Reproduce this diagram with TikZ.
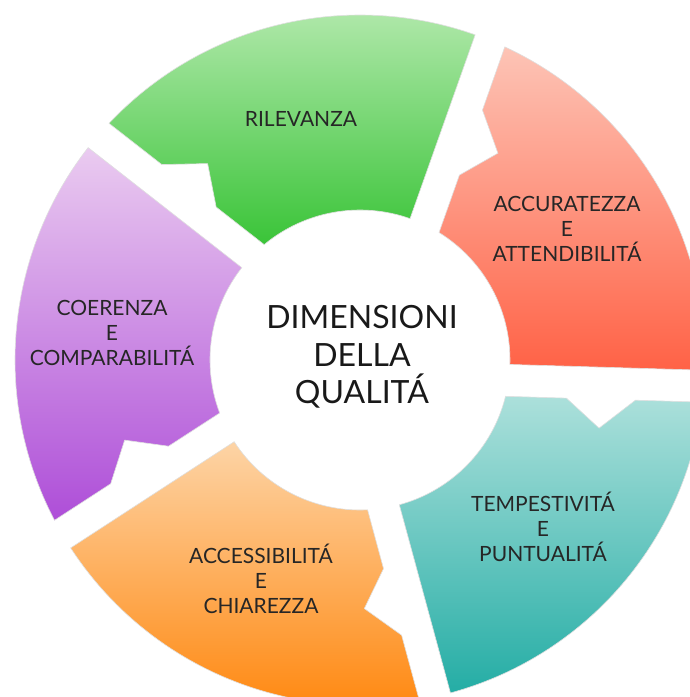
\documentclass[tikz,border=0pt]{standalone}
\usepackage{fontspec}
\setmainfont{Lato}
\usetikzlibrary{calc}

\definecolor{grntop}{RGB}{186,235,180}
\definecolor{grnbot}{RGB}{58,196,56}
\definecolor{redtop}{RGB}{253,196,182}
\definecolor{redbot}{RGB}{255,98,70}
\definecolor{teltop}{RGB}{172,224,219}
\definecolor{telbot}{RGB}{36,173,165}
\definecolor{orgtop}{RGB}{253,212,166}
\definecolor{orgbot}{RGB}{255,132,8}
\definecolor{prptop}{RGB}{234,203,240}
\definecolor{prpbot}{RGB}{174,78,216}

\tikzset{seglabel/.style={align=center,text=black!85,font=\fontsize{21}{25}\selectfont},
         midlabel/.style={align=center,text=black!90,font=\fontsize{32}{37.5}\selectfont}}

\begin{document}
\begin{tikzpicture}[x=1pt,y=1pt]
\clip (-360,-337) rectangle (330,360);

% ring segments: flat end at \a, notched end at \b
\foreach \a/\b/\ct/\cb in {70.5/142/grntop/grnbot,-1.7/70.5/redtop/redbot,285.2/358.3/teltop/telbot,213/285.2/orgtop/orgbot,142/213/prptop/prpbot}
         {
           \shadedraw[top color=\ct,bottom color=\cb,draw=black!12,line width=0.6pt]
             (\a:150) -- (\a:345) arc[start angle=\a,end angle=\b-5.32,radius=345]
             -- ($(\b:276.5)+(\b-90:32)$) -- ($(\b:241)+(\b-90:61)$) -- ($(\b:207.5)+(\b-90:32)$)
             -- ({\b-12.3}:150) arc[start angle=\b-12.3,end angle=\a,radius=150] -- cycle;
         }

\node[midlabel] (centre) at (2,3) {DIMENSIONI\\DELLA\\QUALITÁ};

\node[seglabel] (rilev) at (-59,241) {RILEVANZA};
\node[seglabel] (accur) at (207,131) {ACCURATEZZA\\E\\ATTENDIBILITÁ};
\node[seglabel] (tempe) at (183,-167) {TEMPESTIVITÁ\\E\\PUNTUALITÁ};
\node[seglabel] (acces) at (-99,-219) {ACCESSIBILITÁ\\E\\CHIAREZZA};
\node[seglabel] (coere) at (-248,27) {COERENZA\\E\\COMPARABILITÁ};

\end{tikzpicture}
\end{document}
